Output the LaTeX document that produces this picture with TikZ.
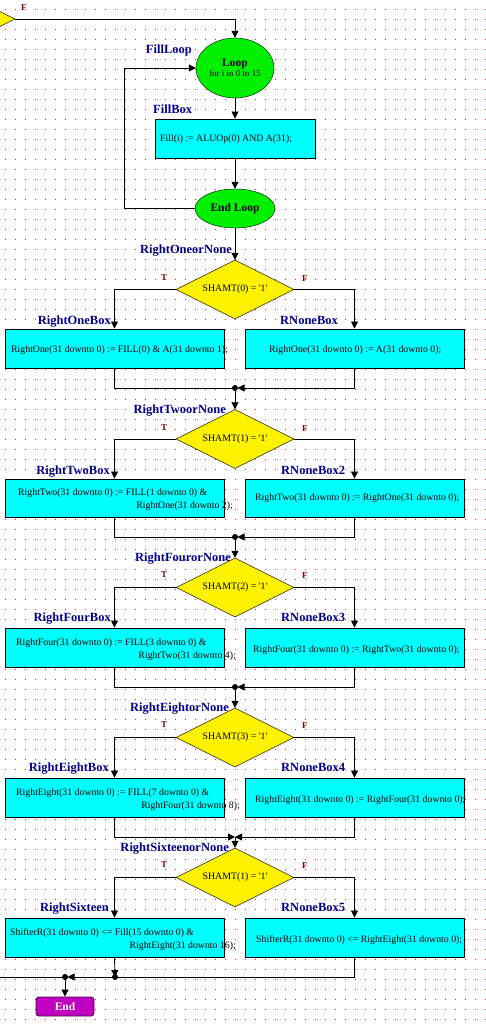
\documentclass[tikz,border=0pt]{standalone}
\usepackage{fontspec}
\setmainfont{Liberation Serif}
\usetikzlibrary{shapes.geometric,arrows.meta}
\definecolor{navy}{HTML}{000090}
\definecolor{tfred}{HTML}{800000}
\definecolor{dotc}{HTML}{C03030}
\definecolor{boxc}{HTML}{00FFFF}
\definecolor{loopc}{HTML}{00F000}
\definecolor{endc}{HTML}{C000C0}
\tikzset{
  box/.style={draw=black, line width=0.9pt, fill=boxc, minimum width=219pt, minimum height=39pt, inner sep=0pt},
  lbl/.style={font=\bfseries\fontsize{12.5}{13}\selectfont, text=navy, inner sep=0pt},
  tf/.style={font=\bfseries\fontsize{9}{10}\selectfont, text=tfred, inner sep=0pt},
  txt/.style={font=\fontsize{9.8}{11}\selectfont, inner sep=0pt},
  dec/.style={diamond, draw=black, fill=yellow, aspect=2, minimum width=118pt, minimum height=59pt, inner sep=0pt, font=\fontsize{9.8}{11}\selectfont},
  lp/.style={ellipse, draw=black, fill=loopc, inner sep=0pt},
  arr/.style={-{Triangle[width=7pt,length=7pt]}},
  ln/.style={line width=0.8pt},
  dotm/.style={fill=black},
}
\begin{document}
\begin{tikzpicture}[x=1pt,y=-1pt]
\useasboundingbox (0,0) rectangle (485,1024);
\fill[white] (0,0) rectangle (485,1024);
% grid
\foreach \i in {0,...,48}{
  \foreach \j in {0,...,101}{
    \fill[dotc] (5+10*\i,9+10*\j) rectangle ++(0.9,0.9);
  }
}
% top partial decision
\node[dec, text=yellow] (topdec) at (-44,19) {};
\node[tf, anchor=base west] (tfF0) at (21,11) {F};

% Loop
\node[lp, minimum width=78pt, minimum height=60pt, align=center] (loop) at (235,68)
  {{\bfseries\fontsize{11.5}{12}\selectfont Loop}\\[-2pt]{\fontsize{9}{9}\selectfont for i in 0 to 15}};
\node[lbl, anchor=base east] (lloop) at (192,54) {FillLoop};
\node[box, minimum width=160pt] (fillbox) at (235,138.5) {};
\node[lbl, anchor=base west] (lfill) at (153,114) {FillBox};
\node[txt, anchor=base west] (tfill) at (160,142) {Fill(i) := ALUOp(0) AND A(31);};
\node[lp, minimum width=80pt, minimum height=39pt, font=\bfseries\fontsize{11.5}{12}\selectfont] (endloop) at (235,208.5) {End Loop};

\draw[ln,arr] (topdec.east) -| (loop.north);
\draw[ln,arr] (loop.south) -- (fillbox.north);
\draw[ln,arr] (fillbox.south) -- (endloop.north);
\draw[ln,arr] (endloop.west) -- ++(-70,0) |- (loop.west);

% Section 1
\node[dec] (d1) at (235,289.5) {SHAMT(0) = \textquotesingle 1\textquotesingle};
\node[lbl, anchor=base east] (ld1) at (232,253) {RightOneorNone};
\node[tf, anchor=base west] (t1) at (161,280) {T};
\node[tf, anchor=base west] (f1) at (302,281) {F};
\node[box] (bl1) at (114.5,348.5) {};
\node[box] (br1) at (354.5,348.5) {};
\node[lbl, anchor=base east] (lbl1) at (111,324) {RightOneBox};
\node[lbl, anchor=base west] (lbr1) at (280,324) {RNoneBox};
\node[txt, anchor=base west] (tl1) at (11,352) {RightOne(31 downto 0) := FILL(0) \& A(31 downto 1);};
\node[txt, anchor=base west] (tr1) at (269,352) {RightOne(31 downto 0) := A(31 downto 0);};
\coordinate (m1) at (235,388);
\draw[ln,arr] (endloop.south) -- (d1.north);
\draw[ln,arr] (d1.west) -| (bl1.north);
\draw[ln,arr] (d1.east) -| (br1.north);
\draw[ln] (bl1.south) |- (m1);
\draw[ln,arr,shorten >=2.5pt] (br1.south) |- (m1);
\fill[dotm] (m1) circle (3);

% Section 2
\node[dec] (d2) at (235,439) {SHAMT(1) = \textquotesingle 1\textquotesingle};
\node[lbl, anchor=base east] (ld2) at (226,413) {RightTwoorNone};
\node[tf, anchor=base west] (t2) at (161,430) {T};
\node[tf, anchor=base west] (f2) at (302,431) {F};
\node[box, minimum height=38pt] (bl2) at (114.5,498) {};
\node[box, minimum height=38pt] (br2) at (354.5,498) {};
\node[lbl, anchor=base east] (lbl2) at (110,474) {RightTwoBox};
\node[lbl, anchor=base west] (lbr2) at (281,474) {RNoneBox2};
\node[txt, anchor=base west] (tl2a) at (18,495) {RightTwo(31 downto 0) := FILL(1 downto 0) \&};
\node[txt, anchor=base east] (tl2b) at (233,508) {RightOne(31 downto 2);};
\node[txt, anchor=base west] (tr2) at (255,500) {RightTwo(31 downto 0) := RightOne(31 downto 0);};
\coordinate (m2) at (235,537);
\draw[ln,arr] (m1) -- (d2.north);
\draw[ln,arr] (d2.west) -| (bl2.north);
\draw[ln,arr] (d2.east) -| (br2.north);
\draw[ln] (bl2.south) |- (m2);
\draw[ln,arr,shorten >=2.5pt] (br2.south) |- (m2);
\fill[dotm] (m2) circle (3);

% Section 3
\node[dec] (d3) at (235,587.5) {SHAMT(2) = \textquotesingle 1\textquotesingle};
\node[lbl, anchor=base east] (ld3) at (231,561) {RightFourorNone};
\node[tf, anchor=base west] (t3) at (161,577) {T};
\node[tf, anchor=base west] (f3) at (302,578) {F};
\node[box] (bl3) at (114.5,647.5) {};
\node[box] (br3) at (354.5,647.5) {};
\node[lbl, anchor=base east] (lbl3) at (111,621) {RightFourBox};
\node[lbl, anchor=base west] (lbr3) at (281,621) {RNoneBox3};
\node[txt, anchor=base west] (tl3a) at (16,645) {RightFour(31 downto 0) := FILL(3 downto 0) \&};
\node[txt, anchor=base east] (tl3b) at (236,658) {RightTwo(31 downto 4);};
\node[txt, anchor=base west] (tr3) at (253,652) {RightFour(31 downto 0) := RightTwo(31 downto 0);};
\coordinate (m3) at (235,687);
\draw[ln,arr] (m2) -- (d3.north);
\draw[ln,arr] (d3.west) -| (bl3.north);
\draw[ln,arr] (d3.east) -| (br3.north);
\draw[ln] (bl3.south) |- (m3);
\draw[ln,arr,shorten >=2.5pt] (br3.south) |- (m3);
\fill[dotm] (m3) circle (3);

% Section 4
\node[dec] (d4) at (235,737.5) {SHAMT(3) = \textquotesingle 1\textquotesingle};
\node[lbl, anchor=base east] (ld4) at (229,711) {RightEightorNone};
\node[tf, anchor=base west] (t4) at (161,727) {T};
\node[tf, anchor=base west] (f4) at (302,728) {F};
\node[box] (bl4) at (114.5,797.5) {};
\node[box] (br4) at (354.5,797.5) {};
\node[lbl, anchor=base east] (lbl4) at (109,771) {RightEightBox};
\node[lbl, anchor=base west] (lbr4) at (281,771) {RNoneBox4};
\node[txt, anchor=base west] (tl4a) at (16,795) {RightEight(31 downto 0) := FILL(7 downto 0) \&};
\node[txt, anchor=base east] (tl4b) at (240,808) {RightFour(31 downto 8);};
\node[txt, anchor=base west] (tr4) at (255,802) {RightEight(31 downto 0) := RightFour(31 downto 0);};
\coordinate (m4) at (235,837);
\draw[ln,arr] (m3) -- (d4.north);
\draw[ln,arr] (d4.west) -| (bl4.north);
\draw[ln,arr] (d4.east) -| (br4.north);
\draw[ln,arr] (bl4.south) |- (m4);
\draw[ln,arr] (br4.south) |- (m4);

% Section 5
\node[dec] (d5) at (235,877.5) {SHAMT(1) = \textquotesingle 1\textquotesingle};
\node[lbl, anchor=base east] (ld5) at (229,851) {RightSixteenorNone};
\node[tf, anchor=base west] (t5) at (161,867) {T};
\node[tf, anchor=base west] (f5) at (302,868) {F};
\node[box] (bl5) at (114.5,937.5) {};
\node[box] (br5) at (354.5,937.5) {};
\node[lbl, anchor=base east] (lbl5) at (109,911) {RightSixteen};
\node[lbl, anchor=base west] (lbr5) at (281,911) {RNoneBox5};
\node[txt, anchor=base west] (tl5a) at (10,935) {ShifterR(31 downto 0) <= Fill(15 downto 0) \&};
\node[txt, anchor=base east] (tl5b) at (236,948) {RightEight(31 downto 16);};
\node[txt, anchor=base west] (tr5) at (256,942) {ShifterR(31 downto 0) <= RightEight(31 downto 0);};
\draw[ln,arr] (m4) -- (d5.north);
\draw[ln,arr] (d5.west) -| (bl5.north);
\draw[ln,arr] (d5.east) -| (br5.north);

% End
\node[draw=black!60!endc, line width=0.9pt, fill=endc, rounded corners=3pt, minimum width=58pt, minimum height=19pt, inner sep=0pt, text=white, font=\bfseries\fontsize{11.5}{12}\selectfont] (end) at (65,1006.5) {End};
\coordinate (m5) at (115,977);
\coordinate (m6) at (65,977);
\coordinate (offl) at (-5,977);
\draw[ln,arr] (bl5.south) -- (m5);
\draw[ln,arr,shorten >=2.5pt] (br5.south) |- (m6);
\draw[ln] (m6) -- (offl);
\draw[ln,arr] (m6) -- (end.north);
\fill[dotm] (m5) circle (3);
\fill[dotm] (m6) circle (3);
\end{tikzpicture}
\end{document}
